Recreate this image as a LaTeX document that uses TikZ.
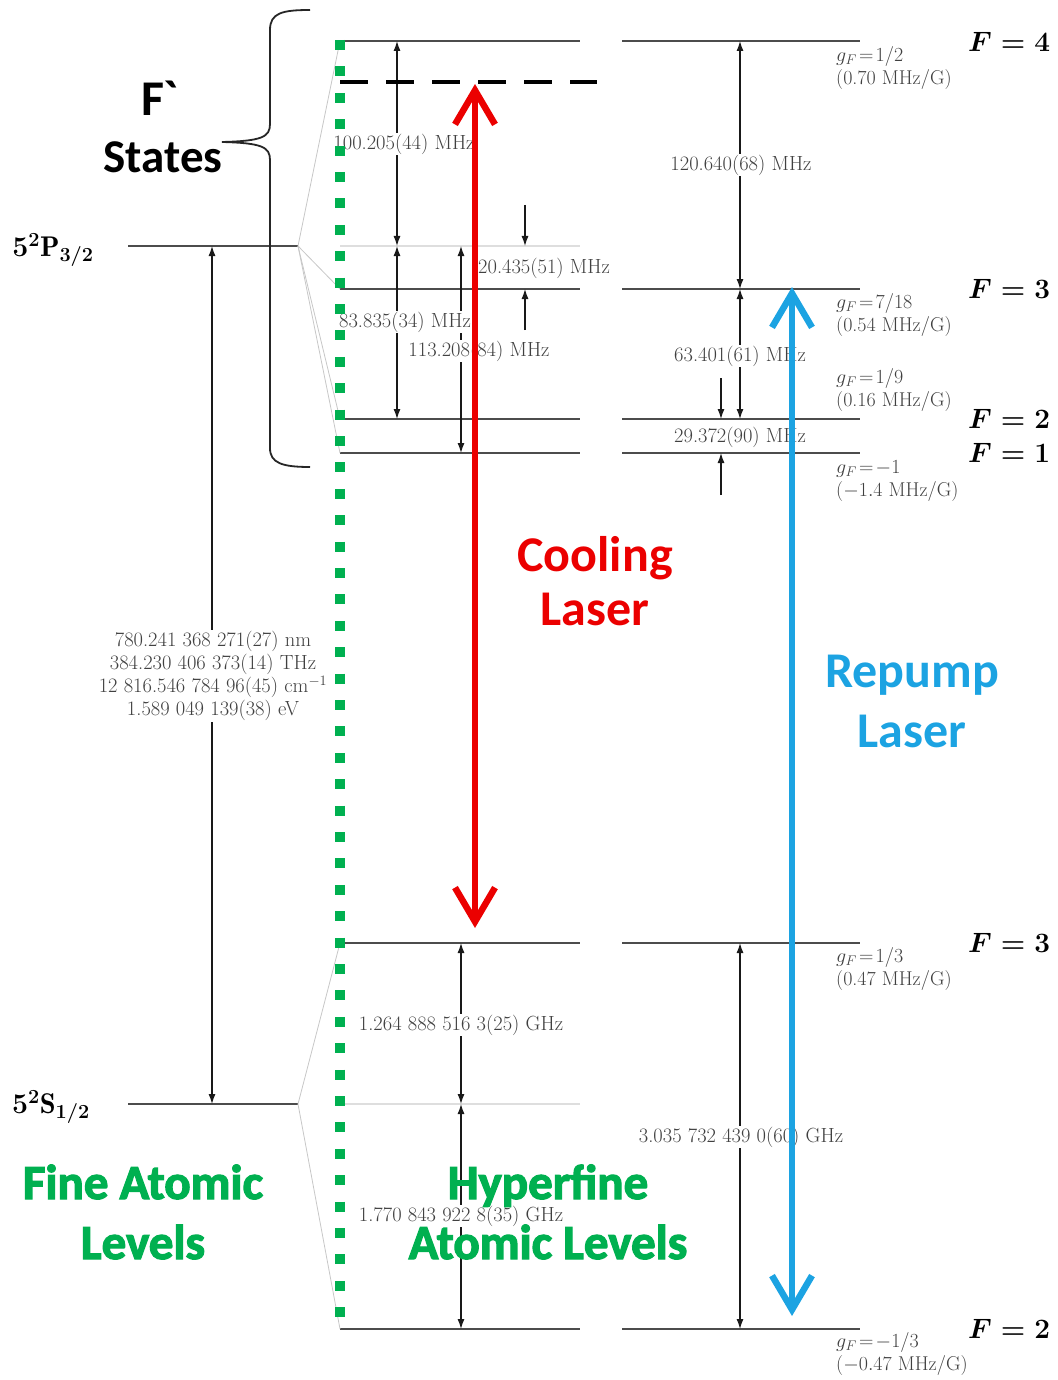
\RequirePackage{fix-cm}
\documentclass[tikz,border=0pt]{standalone}
\usepackage{amsmath}
\usepackage{fontspec}
\newfontfamily\carl{Carlito}
\newfontfamily\carlheavy{Carlito Bold}[FakeBold=2.5]
\usetikzlibrary{arrows.meta}
\definecolor{redL}{RGB}{235,0,0}
\definecolor{blueL}{RGB}{28,163,226}
\definecolor{greenL}{RGB}{0,176,80}
\tikzset{
  lvl/.style={draw=black!70, line width=1.8pt},
  refl/.style={draw=black!13, line width=1.5pt},
  fan/.style={draw=black!22, line width=0.8pt},
  dim/.style={draw=black!90, line width=1.2pt, {Latex[length=10pt,width=7pt]}-{Latex[length=10pt,width=7pt]}},
  oneway/.style={draw=black!90, line width=1.2pt, -{Latex[length=10pt,width=7pt]}},
  lab/.style={fill=white, inner sep=1pt, text=black!75, font=\fontsize{20.5}{22}\selectfont},
  glab/.style={anchor=west, text=black!75, font=\fontsize{20}{23}\selectfont, align=left, inner sep=0pt},
  Flab/.style={anchor=west, inner sep=0pt, font=\fontsize{28}{30}\selectfont\boldmath},
  finelab/.style={inner sep=0pt, font=\fontsize{28.5}{30}\selectfont\boldmath},
  big/.style={anchor=base, inner sep=0pt, font=\carl\bfseries\fontsize{50}{52}\selectfont},
  heavy/.style={anchor=base, inner sep=0pt, text=greenL, font=\carlheavy\fontsize{49}{52}\selectfont},
  laser/.style={line width=6.5pt, {Straight Barb[length=34pt,width=40pt]}-{Straight Barb[length=34pt,width=40pt]}},
}
\begin{document}
\begin{tikzpicture}[x=1pt,y=-1pt]
\useasboundingbox (0,0) rectangle (1057,1380);

% fine levels
\draw[lvl] (128,246) -- (298,246) coordinate (P);
\draw[lvl] (128,1104) -- (298,1104) coordinate (S);
\node[finelab] (Plab) at (53,250) {$5^2\mathrm{P}_{3/2}$};
\node[finelab] (Slab) at (51,1107) {$5^2\mathrm{S}_{1/2}$};

% hyperfine levels
\foreach \n/\y in {P4/41, P3/289, P2/419, P1/453, S3/943, S2/1329} {
  \draw[lvl] (340,\y) coordinate (\n L) -- (580,\y) coordinate (\n M);
  \draw[lvl] (622,\y) coordinate (\n R) -- (860,\y) coordinate (\n E);
}
\draw[refl] (340,246) coordinate (PcL) -- (580,246) coordinate (PcM);
\draw[refl] (340,1104) coordinate (ScL) -- (580,1104) coordinate (ScM);

% fan lines
\foreach \t in {P4L, P3L, P2L, P1L} \draw[fan] (P) -- (\t);
\foreach \t in {S3L, S2L} \draw[fan] (S) -- (\t);

% column x positions
\coordinate (xF) at (212,0);
\coordinate (xA) at (397,0);
\coordinate (xB) at (461,0);
\coordinate (xC) at (525,0);
\coordinate (xD) at (740,0);
\coordinate (xE) at (721,0);
\coordinate (c20a) at (525,205);
\coordinate (c20b) at (525,330);
\coordinate (c29a) at (721,378);
\coordinate (c29b) at (721,495);

% dimension arrows
\draw[dim] (xF |- P) -- (xF |- S);
\draw[dim] (xA |- P4L) -- (xA |- PcL);
\draw[dim] (xA |- PcL) -- (xA |- P2L);
\draw[dim] (xB |- PcL) -- (xB |- P1L);
\draw[oneway] (c20a) -- (xC |- PcL);
\draw[oneway] (c20b) -- (xC |- P3L);
\draw[dim] (xD |- P4R) -- (xD |- P3R);
\draw[dim] (xD |- P3R) -- (xD |- P2R);
\draw[oneway] (c29a) -- (xE |- P2R);
\draw[oneway] (c29b) -- (xE |- P1R);
\draw[dim] (xB |- S3L) -- (xB |- ScL);
\draw[dim] (xB |- ScL) -- (xB |- S2L);
\draw[dim] (xD |- S3R) -- (xD |- S2R);

% labels
\node[lab, align=center, font=\fontsize{20.5}{23}\selectfont] (fineT) at (213,676)
  {780.241 368 271(27) nm\\384.230 406 373(14) THz\\12 816.546 784 96(45) cm$^{-1}$\\1.589 049 139(38) eV};
\node[lab] (l100) at (404,144) {100.205(44) MHz};
\node[lab] (l20) at (544,268) {20.435(51) MHz};
\node[lab] (l83) at (405,322) {83.835(34) MHz};
\node[lab] (l113) at (479,351) {113.208(84) MHz};
\node[lab] (l120) at (741,165) {120.640(68) MHz};
\node[lab] (l63) at (740,356) {63.401(61) MHz};
\node[lab] (l29) at (740,437) {29.372(90) MHz};
\node[lab] (l1264) at (461,1025) {1.264 888 516 3(25) GHz};
\node[lab] (l1770) at (461,1216) {1.770 843 922 8(35) GHz};
\node[lab] (l3035) at (741,1137) {3.035 732 439 0(60) GHz};

% g-factor labels
\node[glab] (g4) at (836,68) {$g_F\!=\!1/2$\\(0.70 MHz/G)};
\node[glab] (g3) at (836,315) {$g_F\!=\!7/18$\\(0.54 MHz/G)};
\node[glab] (g2) at (836,390) {$g_F\!=\!1/9$\\(0.16 MHz/G)};
\node[glab] (g1) at (836,481) {$g_F\!=\!-1$\\($-1.4$ MHz/G)};
\node[glab] (gs3) at (836,969) {$g_F\!=\!1/3$\\(0.47 MHz/G)};
\node[glab] (gs2) at (836,1354) {$g_F\!=\!-1/3$\\($-0.47$ MHz/G)};

% F labels
\node[Flab] (F4) at (968,42) {$F = 4$};
\node[Flab] (F3) at (968,289) {$F = 3$};
\node[Flab] (F2) at (968,419) {$F = 2$};
\node[Flab] (F1) at (968,453) {$F = 1$};
\node[Flab] (Fs3) at (968,943) {$F = 3$};
\node[Flab] (Fs2) at (968,1329) {$F = 2$};

% brace
\draw[line width=1.8pt, black!85] (310,10) .. controls (282,10) and (270,13) .. (270,30)
  -- (270,124) .. controls (270,137) and (262,141) .. (222,142)
  .. controls (262,143) and (270,147) .. (270,160)
  -- (270,448) .. controls (270,463) and (282,467) .. (310,467);

% dashed detuned level
\coordinate (dashL) at (340,82);
\coordinate (dashR) at (597,82);
\draw[line width=4.5pt, dash pattern=on 28pt off 18pt] (dashL) -- (dashR);

% lasers
\coordinate (coolT) at (475,84);
\coordinate (coolB) at (475,928);
\coordinate (repT) at (792,287);
\coordinate (repB) at (792,1316);
\draw[laser, redL] (coolT) -- (coolB);
\draw[laser, blueL] (repT) -- (repB);

% green dotted separator
\coordinate (gT) at (340,40);
\coordinate (gB) at (340,1322);
\draw[greenL, line width=10pt, dash pattern=on 10pt off 16.4pt] (gT) -- (gB);

% big texts
\node[big, text=black] (Fp) at (160,116) {F`};
\node[big, text=black, font=\carl\bfseries\fontsize{47}{50}\selectfont] (States) at (163,173) {States};
\node[big, text=redL] (cool1) at (595,571) {Cooling};
\node[big, text=redL] (cool2) at (595,625) {Laser};
\node[big, text=blueL] (rep1) at (912,687) {Repump};
\node[big, text=blueL] (rep2) at (912,747) {Laser};
\node[heavy] (fine1) at (143,1199) {Fine Atomic};
\node[heavy] (fine2) at (143,1259) {Levels};
\node[heavy] (hyp1) at (548,1199) {Hyperfine};
\node[heavy] (hyp2) at (548,1259) {Atomic Levels};
\end{tikzpicture}
\end{document}
